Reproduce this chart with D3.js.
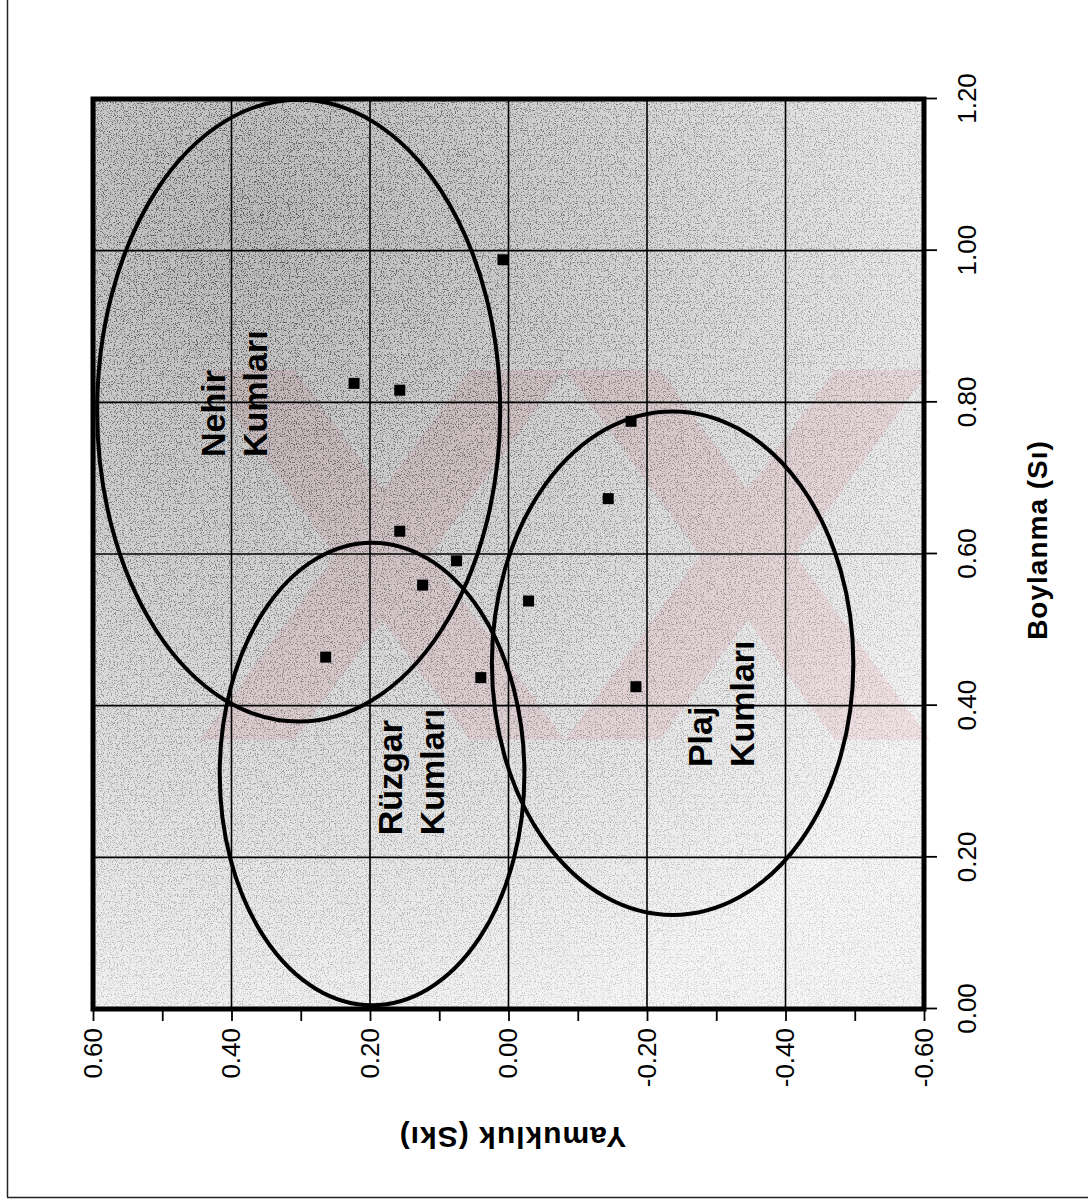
<!DOCTYPE html>
<html>
<head>
<meta charset="utf-8">
<script src="https://cdn.jsdelivr.net/npm/d3@7"></script>
<style>
  body { margin: 0; background: #fff; }
  text { font-family: "Liberation Sans", Arial, sans-serif; fill: #000; }
</style>
</head>
<body>
<script>
// samples: Boylanma (Si) and Yamukluk (Ski)
const boylanma = [0.988, 0.825, 0.816, 0.775, 0.673, 0.630, 0.591, 0.559, 0.538, 0.464, 0.437, 0.425];
const yamukluk = [0.008, 0.223, 0.157, -0.177, -0.144, 0.157, 0.075, 0.124, -0.029, 0.264, 0.040, -0.184];

// sand groups drawn as ellipses (centre and half axes in data units)
const groupLine1 = ["Nehir", "Rüzgar", "Plaj"];
const groupLine2 = ["Kumları", "Kumları", "Kumları"];
const groupSi = [0.789, 0.310, 0.456];
const groupSk = [0.303, 0.197, -0.237];
const groupHalfSi = [0.410, 0.305, 0.332];
const groupHalfSk = [0.291, 0.220, 0.261];
const labelSi = [0.728, 0.229, 0.319];
const labelSk = [0.409, 0.154, -0.294];

// axis ticks
const siTicks = [0, 0.2, 0.4, 0.6, 0.8, 1.0, 1.2];
const skTicks = [0.6, 0.5, 0.4, 0.3, 0.2, 0.1, 0, -0.1, -0.2, -0.3, -0.4, -0.5, -0.6];
const skLabelled = [0.6, 0.4, 0.2, 0, -0.2, -0.4, -0.6];
const siGrid = [0.2, 0.4, 0.6, 0.8, 1.0];
const skGrid = [0.4, 0.2, 0, -0.2, -0.4];

const pageW = 1088, pageH = 1203;
// the whole chart is turned a quarter turn: Si runs upward, Ski runs to the right
const ox = 93, oy = 1009, plotW = 910, plotH = 831;

const svg = d3.select("body").append("svg")
    .attr("width", pageW)
    .attr("height", pageH);

// page frame (scanned page edge)
svg.append("line").attr("x1", 7.5).attr("x2", 7.5).attr("y1", 0).attr("y2", 1197)
    .attr("stroke", "#222").attr("stroke-width", 1.5);
svg.append("line").attr("x1", 7).attr("x2", pageW).attr("y1", 1197.5).attr("y2", 1197.5)
    .attr("stroke", "#222").attr("stroke-width", 1.5);

const defs = svg.append("defs");
const tone = defs.append("radialGradient").attr("id", "tone")
    .attr("gradientUnits", "userSpaceOnUse")
    .attr("cx", 250).attr("cy", 230).attr("r", 850);
tone.append("stop").attr("offset", 0).attr("stop-color", "#000").attr("stop-opacity", 0.27);
tone.append("stop").attr("offset", 0.45).attr("stop-color", "#000").attr("stop-opacity", 0.17);
tone.append("stop").attr("offset", 1).attr("stop-color", "#000").attr("stop-opacity", 0.04);

const speck = defs.append("filter").attr("id", "speck")
    .attr("x", 0).attr("y", 0).attr("width", "100%").attr("height", "100%");
speck.append("feTurbulence").attr("type", "fractalNoise")
    .attr("baseFrequency", 0.85).attr("numOctaves", 2).attr("seed", 5);
speck.append("feColorMatrix").attr("type", "matrix")
    .attr("values", "0 0 0 0 0  0 0 0 0 0  0 0 0 0 0  -7 0 0 0 3.2");

const densMask = defs.append("radialGradient").attr("id", "dens")
    .attr("gradientUnits", "userSpaceOnUse")
    .attr("cx", 250).attr("cy", 230).attr("r", 850);
densMask.append("stop").attr("offset", 0).attr("stop-color", "#fff");
densMask.append("stop").attr("offset", 1).attr("stop-color", "#444");
defs.append("mask").attr("id", "densMask")
  .append("rect").attr("x", ox).attr("y", oy - plotW).attr("width", plotH).attr("height", plotW)
    .attr("fill", "url(#dens)");

defs.append("clipPath").attr("id", "wmClip")
  .append("rect").attr("x", 200).attr("y", 370).attr("width", 730).attr("height", 370);

// plot background
svg.append("rect")
    .attr("x", ox).attr("y", oy - plotW).attr("width", plotH).attr("height", plotW)
    .attr("fill", "#fff");

// faint watermark behind the plot
const wm = svg.append("g").attr("clip-path", "url(#wmClip)").attr("fill", "#fcecef");
[[200, 565], [565, 930]].forEach(([a, b]) => {
  wm.append("polygon").attr("points", `${a},370 ${a + 95},370 ${b},740 ${b - 95},740`);
  wm.append("polygon").attr("points", `${b - 95},370 ${b},370 ${a + 95},740 ${a},740`);
});

svg.append("rect")
    .attr("x", ox).attr("y", oy - plotW).attr("width", plotH).attr("height", plotW)
    .attr("fill", "url(#tone)");
svg.append("rect")
    .attr("x", ox).attr("y", oy - plotW).attr("width", plotH).attr("height", plotW)
    .attr("filter", "url(#speck)")
    .attr("mask", "url(#densMask)")
    .attr("opacity", 0.55);

// chart group in its own (unrotated) frame
const g = svg.append("g")
    .attr("transform", `translate(${ox},${oy}) rotate(-90)`);

const x = d3.scaleLinear().domain([0, 1.2]).range([0, plotW]);
const y = d3.scaleLinear().domain([0.6, -0.6]).range([0, plotH]);

// grid
g.append("g").selectAll("line")
  .data(siGrid)
  .join("line")
    .attr("x1", d => x(d)).attr("x2", d => x(d))
    .attr("y1", 0).attr("y2", plotH)
    .attr("stroke", "#000").attr("stroke-width", 1.6);
g.append("g").selectAll("line")
  .data(skGrid)
  .join("line")
    .attr("x1", 0).attr("x2", plotW)
    .attr("y1", d => y(d)).attr("y2", d => y(d))
    .attr("stroke", "#000").attr("stroke-width", 1.6);

// ellipses
const groups = groupLine1.map((n, i) => ({
  l1: n, l2: groupLine2[i],
  si: groupSi[i], sk: groupSk[i], hs: groupHalfSi[i], hk: groupHalfSk[i],
  lsi: labelSi[i], lsk: labelSk[i]
}));

g.append("g").selectAll("ellipse")
  .data(groups)
  .join("ellipse")
    .attr("cx", d => x(d.si))
    .attr("cy", d => y(d.sk))
    .attr("rx", d => x(d.si + d.hs) - x(d.si))
    .attr("ry", d => y(d.sk - d.hk) - y(d.sk))
    .attr("fill", "none")
    .attr("stroke", "#000")
    .attr("stroke-width", 4);

// group labels
const lab = g.append("g").selectAll("text")
  .data(groups)
  .join("text")
    .attr("x", d => x(d.lsi))
    .attr("y", d => y(d.lsk))
    .style("font-size", "34px")
    .style("font-weight", "bold");
lab.append("tspan").text(d => d.l1);
lab.append("tspan").attr("x", d => x(d.lsi)).attr("dy", 42).text(d => d.l2);

// points
const pts = boylanma.map((b, i) => ({si: b, sk: yamukluk[i]}));
const s = 11;
g.append("g").selectAll("rect")
  .data(pts)
  .join("rect")
    .attr("x", d => x(d.si) - s / 2)
    .attr("y", d => y(d.sk) - s / 2)
    .attr("width", s).attr("height", s)
    .attr("fill", "#000");

// axes
const xAxis = g.append("g")
    .attr("transform", `translate(0,${plotH})`)
    .call(d3.axisBottom(x).tickValues(siTicks).tickSize(13).tickPadding(21)
      .tickFormat(d => d.toFixed(2)));
const yAxis = g.append("g")
    .call(d3.axisLeft(y).tickValues(skTicks).tickSize(12).tickPadding(7)
      .tickFormat(d => skLabelled.some(v => Math.abs(v - d) < 1e-9) ? d.toFixed(2) : ""));
[xAxis, yAxis].forEach(a => {
  a.select(".domain").remove();
  a.selectAll(".tick line").attr("stroke", "#000").attr("stroke-width", 1.8);
  a.selectAll(".tick text")
    .style("font-size", "26px")
    .attr("fill", "#000");
});

// plot frame
g.append("rect")
    .attr("x", 0).attr("y", 0).attr("width", plotW).attr("height", plotH)
    .attr("fill", "none")
    .attr("stroke", "#000")
    .attr("stroke-width", 5);

// axis titles
g.append("text")
    .attr("x", x(0.6) + 14)
    .attr("y", plotH + 123)
    .attr("text-anchor", "middle")
    .style("font-size", "28px")
    .style("font-weight", "bold")
    .style("letter-spacing", "1px")
    .text("Boylanma (Sı)");

g.append("text")
    .attr("transform", `translate(-118,${y(0) + 4}) rotate(-90)`)
    .attr("text-anchor", "middle")
    .style("font-size", "30px")
    .style("font-weight", "bold")
    .style("letter-spacing", "1px")
    .text("Yamukluk (Skı)");
</script>
</body>
</html>
